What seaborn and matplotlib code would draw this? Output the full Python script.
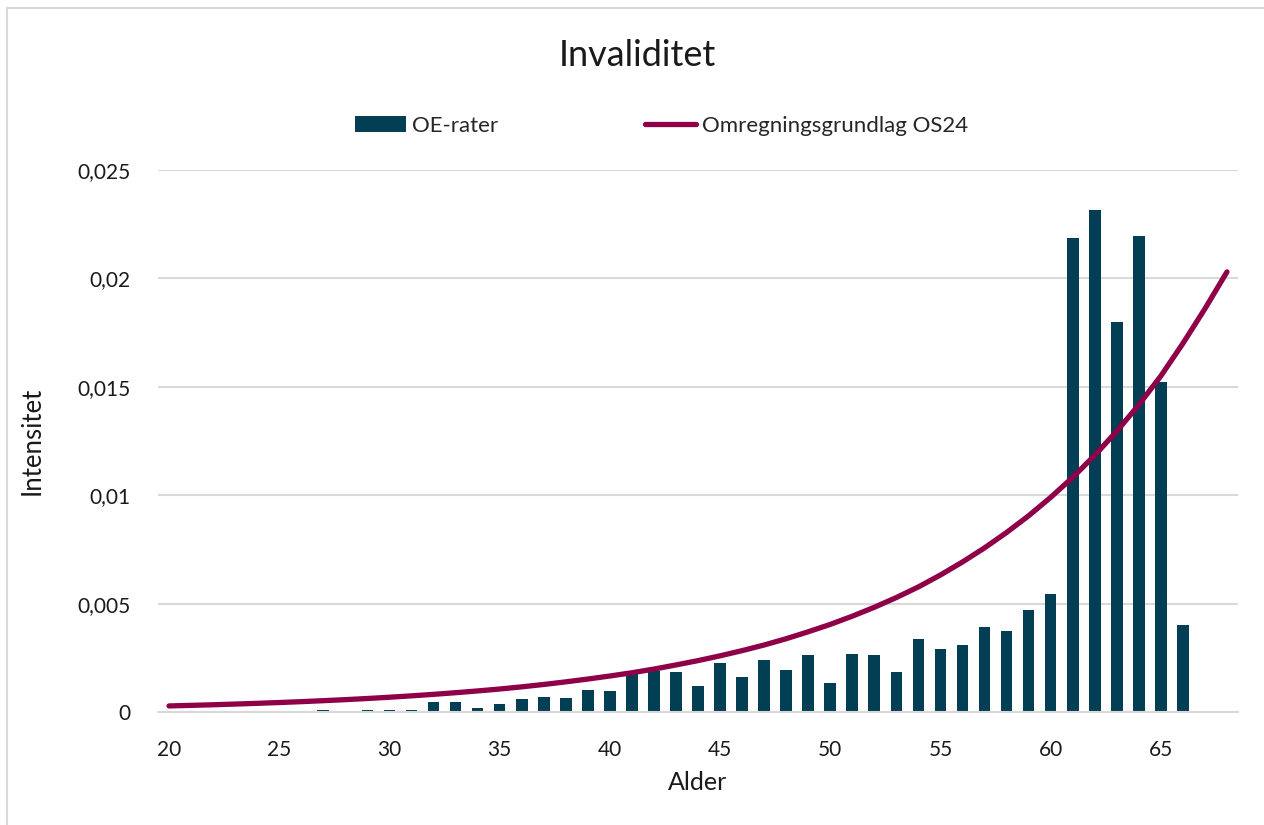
import numpy as np
import pandas as pd
import matplotlib
matplotlib.use("Agg")
import matplotlib.pyplot as plt
import seaborn as sns
from matplotlib.patches import Rectangle

# ---------------- data ----------------
bar_ages = list(range(20, 67))
oe_rater = [
    0, 0, 0, 0, 0, 0, 0,            # 20-26
    0.00009, 0, 0.00007, 0.00007, 0.00007,   # 27-31
    0.00048, 0.00048, 0.00018, 0.00039, 0.00059,  # 32-36
    0.00069, 0.00066, 0.00101, 0.00097, 0.00180,  # 37-41
    0.00190, 0.00185, 0.00118, 0.00226, 0.00163,  # 42-46
    0.00238, 0.00194, 0.00263, 0.00132, 0.00268,  # 47-51
    0.00263, 0.00185, 0.00337, 0.00290, 0.00309,  # 52-56
    0.00390, 0.00372, 0.00469, 0.00546, 0.02188,  # 57-61
    0.02315, 0.01797, 0.02197, 0.01522, 0.00401,  # 62-66
]

line_ages = list(range(20, 69))
os24 = [
    0.00028, 0.000306, 0.000334, 0.000366, 0.000400, 0.000437, 0.000477,
    0.000522, 0.000570, 0.000623, 0.000681, 0.000745, 0.000814, 0.000890,
    0.000972, 0.00106, 0.00116, 0.00127, 0.00139, 0.00152, 0.00166,
    0.00181, 0.00198, 0.00217, 0.00237, 0.00259, 0.00283, 0.00309,
    0.00338, 0.00370, 0.00404, 0.00442, 0.00483, 0.00528, 0.00577,
    0.00632, 0.00692, 0.00757, 0.00828, 0.00905, 0.00990, 0.01082,
    0.01184, 0.01295, 0.01417, 0.01550, 0.01700, 0.01860, 0.02030,
]

x_ticks = [20, 25, 30, 35, 40, 45, 50, 55, 60, 65]
y_ticks = [0, 0.005, 0.01, 0.015, 0.02, 0.025]
y_tick_labels = ["0", "0,005", "0,01", "0,015", "0,02", "0,025"]

title = "Invaliditet"
bar_label = "OE-rater"
line_label = "Omregningsgrundlag OS24"
x_label = "Alder"
y_label = "Intensitet"

bar_color = "#023F54"
line_color = "#8E0048"
grid_color = "#D9D9D9"

# ---------------- plot ----------------
sns.set_theme(style="white")
plt.rcParams["font.family"] = ["Lato", "DejaVu Sans"]

fig = plt.figure(figsize=(12.64, 8.25), dpi=100)
ax = fig.add_axes([158 / 1264, 1 - 712 / 825, (1238 - 158) / 1264, (712 - 170) / 825])

df_bar = pd.DataFrame({"age": bar_ages, "rate": oe_rater})
df_line = pd.DataFrame({"age": line_ages, "rate": os24})

sns.barplot(data=df_bar, x="age", y="rate", native_scale=True, color=bar_color,
            saturation=1, width=0.53, linewidth=0, ax=ax, label=bar_label, zorder=2)
sns.lineplot(data=df_line, x="age", y="rate", color=line_color, linewidth=3.8,
             ax=ax, label=line_label, zorder=3, solid_capstyle="round")

ax.set_xlim(19.5, 68.5)
ax.set_ylim(0, 0.025)
ax.set_xticks(x_ticks)
ax.set_xticklabels([str(t) for t in x_ticks], fontsize=15)
ax.set_yticks(y_ticks)
ax.set_yticklabels(y_tick_labels, fontsize=15)
ax.tick_params(axis="x", length=0, pad=20, colors="#1a1a1a")
ax.tick_params(axis="y", length=0, pad=20, colors="#1a1a1a")

ax.yaxis.grid(True, color=grid_color, linewidth=1.5, zorder=0)
ax.xaxis.grid(False)
ax.set_axisbelow(True)
for s in ["left", "right", "top"]:
    ax.spines[s].set_visible(False)
ax.spines["bottom"].set_color(grid_color)
ax.spines["bottom"].set_linewidth(1.5)

ax.set_xlabel(x_label, fontsize=18, labelpad=8, color="#1a1a1a")
ax.set_ylabel(y_label, fontsize=18.5, labelpad=23, color="#1a1a1a")

ax.get_legend().remove()
handles, labels = ax.get_legend_handles_labels()
order = [labels.index(bar_label), labels.index(line_label)]
fig.legend([handles[i] for i in order], [labels[i] for i in order],
           loc="center", bbox_to_anchor=(0.5235, 1 - 126 / 825),
           ncol=2, frameon=False, fontsize=16, columnspacing=6.6,
           handlelength=2.3, handletextpad=0.28)

fig.text(0.504, 1 - 55 / 825, title, ha="center", va="center", fontsize=26,
         color="#1a1a1a")

fig.patches.append(Rectangle((7 / 1264, -0.1), 1.2, 1 - 8 / 825 + 0.1,
                             transform=fig.transFigure, fill=False,
                             edgecolor="#D9D9D9", linewidth=1.5))

fig.savefig("out.png", dpi=100)
